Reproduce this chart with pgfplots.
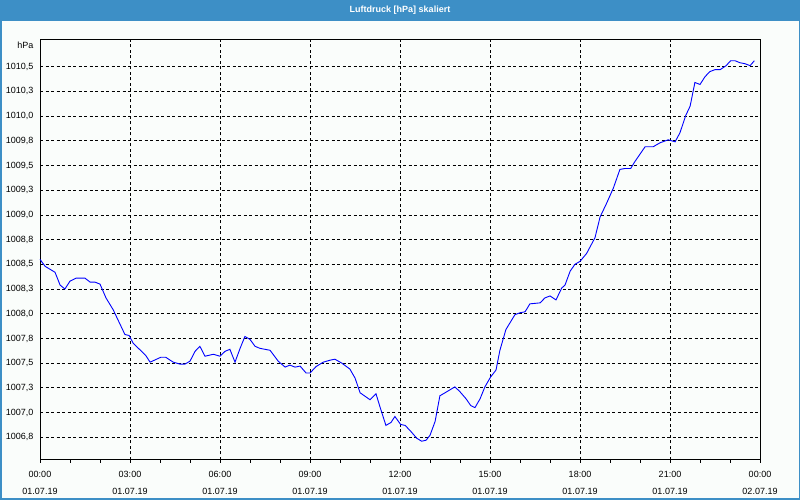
\documentclass[border=0pt]{standalone}
\usepackage{fontspec}
\setmainfont{Liberation Sans}
\usepackage{pgfplots}
\pgfplotsset{compat=1.18}
\definecolor{barblue}{RGB}{61,143,198}
\definecolor{bgc}{RGB}{250,253,251}
\definecolor{ln}{RGB}{0,0,255}
\begin{document}
\begin{tikzpicture}
\fill[bgc] (0,0) rectangle (800pt,500pt);
\fill[barblue] (0,479pt) rectangle (800pt,500pt);
\draw[barblue, line width=1.5pt] (0.75pt,0.75pt) rectangle (799.25pt,499.25pt);
\node[white, font=\bfseries\fontsize{9}{10}\selectfont] at (400pt,490pt) {Luftdruck [hPa] skaliert};
\begin{axis}[
  at={(40pt,40pt)}, anchor=south west, scale only axis,
  width=720pt, height=420pt,
  xmin=0, xmax=24, ymin=1006.52, ymax=1010.77,
  xtick={0,3,6,9,12,15,18,21,24},
  minor xtick={1,2,4,5,7,8,10,11,13,14,16,17,19,20,22,23},
  xticklabels={{00:00\\01.07.19},{03:00\\01.07.19},{06:00\\01.07.19},{09:00\\01.07.19},{12:00\\01.07.19},{15:00\\01.07.19},{18:00\\01.07.19},{21:00\\01.07.19},{00:00\\02.07.19}},
  ytick={1006.75,1007,1007.25,1007.5,1007.75,1008,1008.25,1008.5,1008.75,1009,1009.25,1009.5,1009.75,1010,1010.25,1010.5},
  yticklabels={{1006,8},{1007,0},{1007,3},{1007,5},{1007,8},{1008,0},{1008,3},{1008,5},{1008,8},{1009,0},{1009,3},{1009,5},{1009,8},{1010,0},{1010,3},{1010,5}},
  /pgf/number format/assume math mode=true,
  xtick pos=left, ytick pos=left,
  tick align=outside,
  major tick length=3pt, minor tick length=3pt,
  ytick style={draw=none},
  xtick style={black, line width=0.8pt},
  minor tick style={black, line width=0.8pt},
  grid=major,
  major grid style={black, line width=0.8pt, dash pattern=on 3pt off 2.5pt},
  axis line style={black, line width=1pt},
  xticklabel style={align=center, font=\fontsize{9}{16.5}\selectfont, yshift=-5pt},
  yticklabel style={font=\fontsize{9}{10}\selectfont},
  axis background/.style={fill=bgc},
  clip=false,
]
\addplot[ln, line width=0.9pt, mark=none] coordinates {
(0.00,1008.55) (0.17,1008.48) (0.50,1008.42) (0.67,1008.29) (0.83,1008.25)
(1.00,1008.33) (1.20,1008.36) (1.50,1008.36) (1.67,1008.32) (1.83,1008.32)
(2.00,1008.30) (2.20,1008.16) (2.44,1008.04) (2.83,1007.79) (2.97,1007.78)
(3.11,1007.70) (3.52,1007.58) (3.67,1007.51) (4.03,1007.56) (4.19,1007.56)
(4.44,1007.51) (4.67,1007.49) (4.83,1007.49) (5.00,1007.52) (5.17,1007.62)
(5.33,1007.67) (5.50,1007.57) (5.78,1007.59) (6.00,1007.57) (6.17,1007.62)
(6.33,1007.64) (6.50,1007.51) (6.67,1007.65) (6.83,1007.77) (7.00,1007.74)
(7.17,1007.67) (7.33,1007.65) (7.67,1007.63) (7.94,1007.52) (8.17,1007.46)
(8.33,1007.48) (8.50,1007.46) (8.67,1007.47) (8.87,1007.40) (9.00,1007.40)
(9.20,1007.465) (9.44,1007.51) (9.67,1007.53) (9.83,1007.54) (10.06,1007.50)
(10.33,1007.44) (10.50,1007.35) (10.67,1007.20) (11.00,1007.13) (11.20,1007.19)
(11.33,1007.06) (11.53,1006.87) (11.70,1006.90) (11.83,1006.96) (12.02,1006.88)
(12.17,1006.87) (12.33,1006.82) (12.56,1006.74) (12.72,1006.71) (12.87,1006.72)
(13.00,1006.77) (13.17,1006.91) (13.33,1007.17) (13.50,1007.20) (13.83,1007.26)
(14.00,1007.21) (14.20,1007.14) (14.36,1007.07) (14.50,1007.05) (14.67,1007.14)
(14.83,1007.26) (15.02,1007.36) (15.20,1007.43) (15.33,1007.63) (15.53,1007.84)
(15.83,1007.99) (16.00,1008.01) (16.17,1008.02) (16.33,1008.10) (16.67,1008.11)
(16.83,1008.16) (17.00,1008.18) (17.20,1008.14) (17.39,1008.26) (17.50,1008.29)
(17.67,1008.43) (17.83,1008.50) (18.00,1008.53) (18.22,1008.61) (18.50,1008.77)
(18.67,1008.98) (18.89,1009.12) (19.11,1009.27) (19.33,1009.46) (19.50,1009.47)
(19.69,1009.47) (19.83,1009.54) (20.17,1009.69) (20.44,1009.69) (20.67,1009.73)
(20.94,1009.76) (21.17,1009.74) (21.33,1009.83) (21.53,1010.01) (21.67,1010.10)
(21.83,1010.34) (22.00,1010.32) (22.17,1010.40) (22.33,1010.45) (22.50,1010.47)
(22.67,1010.47) (22.87,1010.51) (23.02,1010.56) (23.17,1010.56) (23.33,1010.54)
(23.50,1010.53) (23.67,1010.51) (23.81,1010.56)
};
\node[anchor=east, font=\fontsize{9}{10}\selectfont, xshift=-3pt, yshift=-5pt] at (rel axis cs:0,1) {hPa};
\end{axis}
\end{tikzpicture}
\end{document}
